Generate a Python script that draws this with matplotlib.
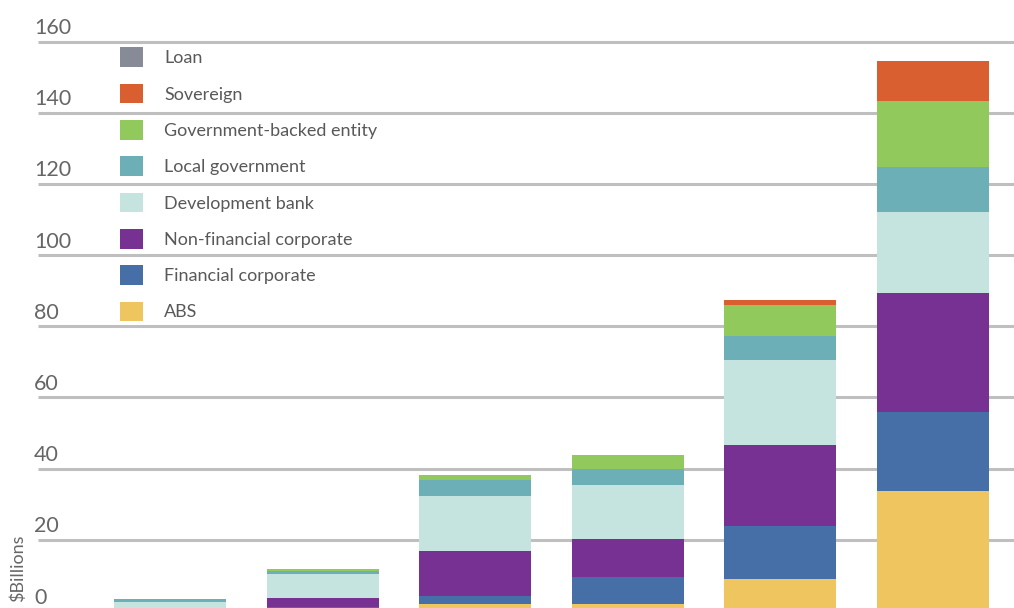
import matplotlib
matplotlib.use("Agg")
import matplotlib.pyplot as plt
import numpy as np

# ---- data ----
bars = ["1", "2", "3", "4", "5", "6"]
abs_ = [0.0, 0.5, 2.0, 2.0, 9.0, 33.7]
fin_corp = [0.0, 0.7, 2.2, 7.6, 14.9, 22.2]
nonfin_corp = [0.0, 2.5, 12.7, 10.6, 22.7, 33.5]
dev_bank = [2.5, 6.8, 15.4, 15.2, 23.9, 22.7]
local_gov = [0.8, 0.6, 4.5, 4.5, 6.9, 12.7]
gov_backed = [0.0, 0.7, 1.4, 3.9, 8.6, 18.5]
sovereign = [0.0, 0.0, 0.0, 0.0, 1.4, 11.2]
loan = [0.0, 0.0, 0.0, 0.0, 0.0, 0.0]

series_names = ["ABS", "Financial corporate", "Non-financial corporate",
                "Development bank", "Local government",
                "Government-backed entity", "Sovereign", "Loan"]
series_values = [abs_, fin_corp, nonfin_corp, dev_bank, local_gov,
                 gov_backed, sovereign, loan]
series_colors = ["#efc55f", "#466ea7", "#773193", "#c5e4df", "#6cafb7",
                 "#92c95c", "#d95f30", "#878a97"]

yticks = [0, 20, 40, 60, 80, 100, 120, 140, 160]
ylabel = "$Billions"

plt.rcParams['font.family'] = ['Lato', 'DejaVu Sans']

W, H = 1014, 608
fig = plt.figure(figsize=(W / 100, H / 100), dpi=100)
ax = fig.add_axes([0, 0, 1, 1])

x0_px, step_px, width_px = 170.0, 152.6, 112.0
zero_px, px_per_unit = 611.0, 3.559
xlim = (-x0_px / step_px, (W - x0_px) / step_px)
ylim = ((zero_px - H) / px_per_unit, zero_px / px_per_unit)
ax.set_xlim(*xlim)
ax.set_ylim(*ylim)
ax.axis("off")

# gridlines
ax.hlines(yticks, xmin=(38 - x0_px) / step_px, xmax=xlim[1],
          colors="#bfbfbf", linewidth=2.2, zorder=0)

x = np.arange(len(bars))
bottom = np.zeros(len(bars))
handles = []
for name, vals, col in zip(series_names, series_values, series_colors):
    v = np.array(vals)
    h = ax.bar(x, v, width=width_px / step_px, bottom=bottom, color=col,
               label=name, zorder=2, linewidth=0)
    handles.append(h)
    bottom += v

# y tick labels (above gridlines)
for t in yticks:
    ax.text(34 / W, t + 13.5 / px_per_unit, str(t),
            transform=ax.get_yaxis_transform(), ha="left", va="center",
            fontsize=15.5, color="#666666")

ax.text(18 / W, (zero_px - 568) / px_per_unit, ylabel,
        transform=ax.get_yaxis_transform(), rotation=90,
        ha="center", va="center", fontsize=13, color="#666666")

leg = ax.legend(handles[::-1], series_names[::-1], loc="upper left",
                bbox_to_anchor=(120 / W, 1 - 47.5 / H), frameon=False,
                fontsize=13, handlelength=1.3, handleheight=1.3,
                handletextpad=1.15, labelspacing=0.92, borderpad=0,
                borderaxespad=0)
for t in leg.get_texts():
    t.set_color("#595959")

fig.savefig("out.png", dpi=100)
